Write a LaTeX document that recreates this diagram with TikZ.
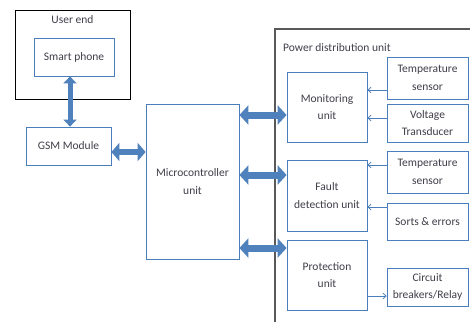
\documentclass[tikz,border=0pt]{standalone}
\usepackage{fontspec}
\setmainfont{Carlito}
\usetikzlibrary{arrows.meta}
\definecolor{boxblue}{HTML}{4A7EBB}
\definecolor{arrowblue}{HTML}{4F81BD}
\definecolor{labelgray}{HTML}{3F3F4A}
\definecolor{framegray}{HTML}{595959}
\tikzset{
  blk/.style={draw=boxblue, line width=0.8pt, align=center, inner sep=1pt,
    text=labelgray, font=\fontsize{11.5}{17.5}\selectfont},
  fatlink/.style={draw=arrowblue, line width=7pt,
    {Triangle[length=9pt,width=19pt]}-{Triangle[length=9pt,width=19pt]}},
  midlink/.style={draw=arrowblue, line width=6pt,
    {Triangle[length=8pt,width=18pt]}-{Triangle[length=8pt,width=18pt]}},
  slimlink/.style={draw=arrowblue, line width=5pt,
    {Triangle[length=7pt,width=13pt]}-{Triangle[length=7pt,width=13pt]}},
  thinlink/.style={draw=boxblue, line width=0.8pt, -{Straight Barb[length=3pt,width=5.5pt]}},
  caption/.style={text=labelgray, font=\fontsize{11.5}{14}\selectfont, inner sep=0pt},
}
\begin{document}
\begin{tikzpicture}[x=1pt,y=-1pt]
\useasboundingbox (0,0) rectangle (470,322);
\fill[white] (0,0) rectangle (470,322);

% user end group
\node[draw=black, line width=1pt, minimum width=115pt, minimum height=89pt, inner sep=0pt] (user) at (72.5,54.5) {};
\node[caption] (userlbl) at (72.5,20) {User end};
\node[blk, minimum width=80pt, minimum height=38pt] (phone) at (74,57) {Smart phone};

% GSM and controller
\node[blk, minimum width=85pt, minimum height=38pt] (gsm) at (68.5,146) {GSM Module};
\node[blk, minimum width=93pt, minimum height=155pt] (mcu) at (192.5,181.5) {Microcontroller\\unit};

% power distribution frame (runs off the right and bottom edges)
\coordinate (pdbl) at (275,322);
\coordinate (pdtl) at (275,29);
\coordinate (pdtr) at (470,29);
\draw[framegray, line width=1.2pt] (pdbl) -- (pdtl) -- (pdtr);
\node[caption, anchor=west] (pdlbl) at (283,47.5) {Power distribution unit};

% units
\node[blk, minimum width=80pt, minimum height=70pt] (mon) at (327,107) {Monitoring\\unit};
\node[blk, minimum width=80pt, minimum height=71pt] (fault) at (327,195.5) {Fault\\detection unit};
\node[blk, minimum width=80pt, minimum height=70pt] (prot) at (327,275) {Protection\\unit};

% sensors and actuators
\node[blk, minimum width=81pt, minimum height=42pt] (temp1) at (427.5,78) {Temperature\\sensor};
\node[blk, minimum width=81pt, minimum height=38pt] (volt) at (427.5,123) {Voltage\\Transducer};
\node[blk, minimum width=81pt, minimum height=42pt] (temp2) at (427.5,172) {Temperature\\sensor};
\node[blk, minimum width=81pt, minimum height=37pt] (sorts) at (427.5,221.5) {Sorts \& errors};
\node[blk, minimum width=81pt, minimum height=38pt] (cb) at (427.5,287) {Circuit\\breakers/Relay};

% bidirectional data links
\draw[slimlink] (phone.south -| 70,0) -- (gsm.north -| 70,0);
\draw[midlink] (gsm.east |- 0,152) -- (mcu.west |- 0,152);
\draw[fatlink] (mcu.east |- 0,115) -- (mon.west |- 0,115);
\draw[fatlink] (mcu.east |- 0,175) -- (fault.west |- 0,175);
\draw[fatlink] (mcu.east |- 0,248) -- (prot.west |- 0,248);

% signal lines
\draw[thinlink] (temp1.west |- 0,90) -- (mon.east |- 0,90);
\draw[thinlink] (volt.west |- 0,118) -- (mon.east |- 0,118);
\draw[thinlink] (temp2.west |- 0,165) -- (fault.east |- 0,165);
\draw[thinlink] (sorts.west |- 0,207) -- (fault.east |- 0,207);
\draw[thinlink] (prot.east |- 0,296) -- (cb.west |- 0,296);
\end{tikzpicture}
\end{document}
